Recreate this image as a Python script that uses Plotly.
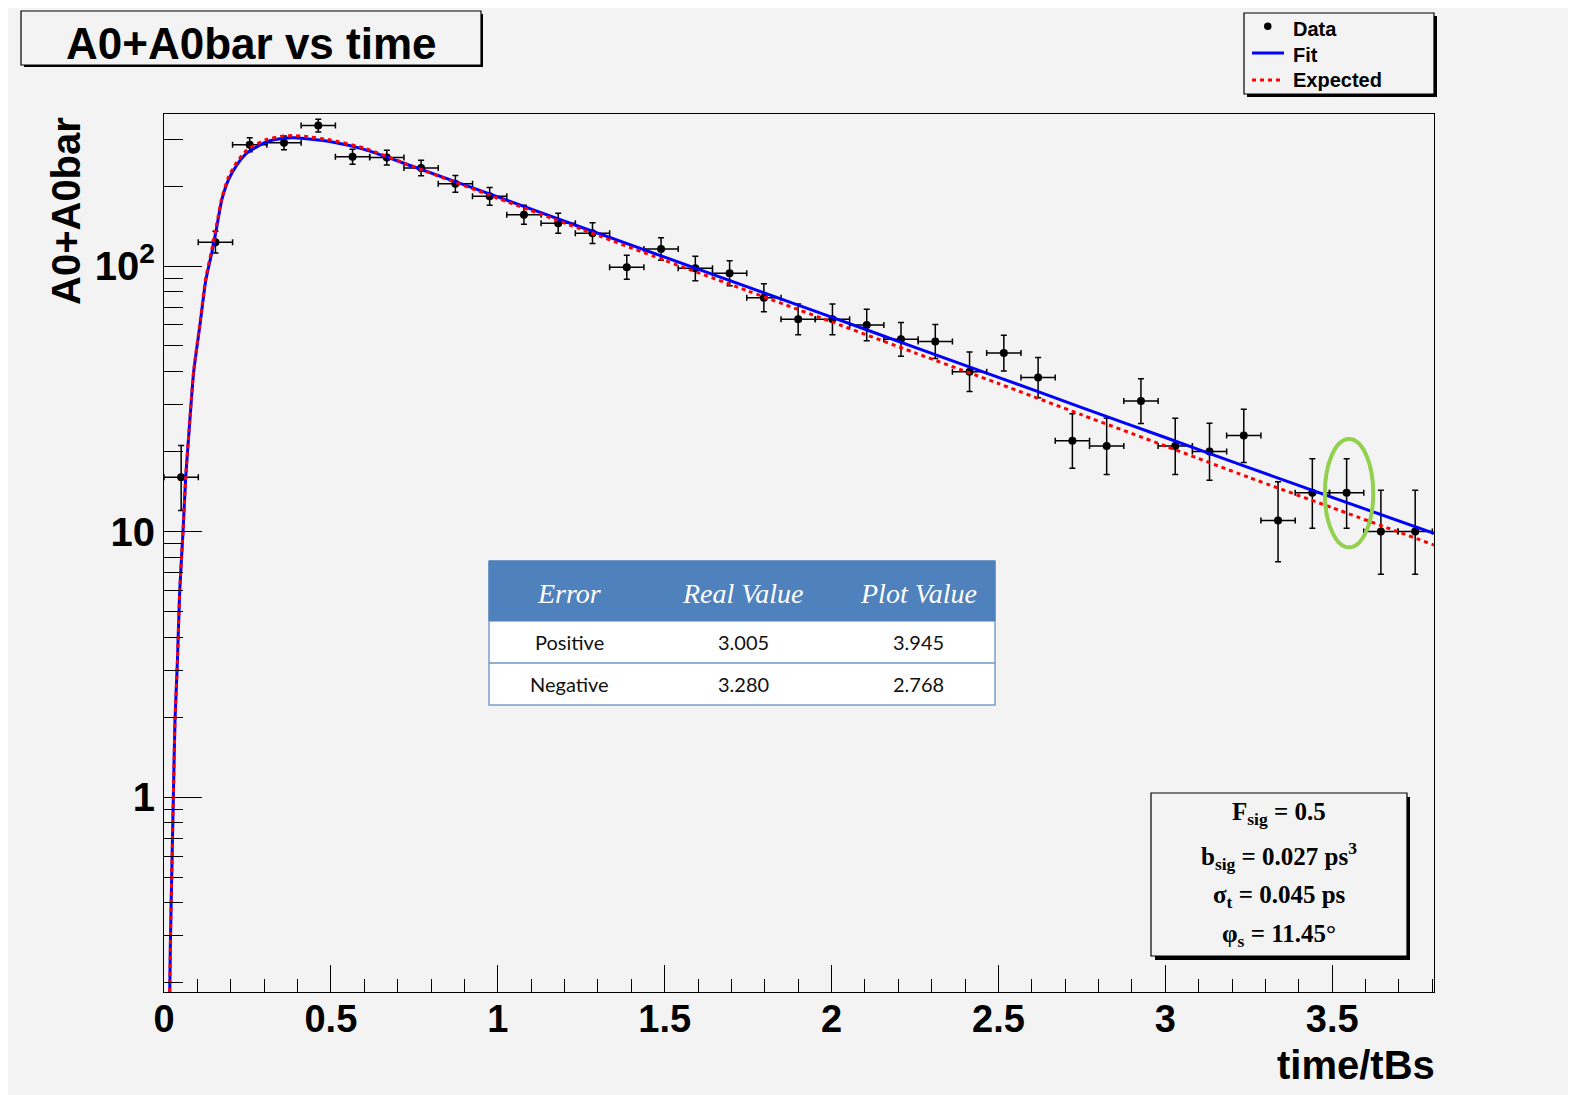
import plotly.graph_objects as go

# ---------------- data ----------------
time_centers = [0.0514, 0.1541, 0.2568, 0.3595, 0.4622, 0.5649, 0.6676, 0.7703, 0.8730, 0.9757,
                1.0784, 1.1811, 1.2838, 1.3865, 1.4892, 1.5919, 1.6946, 1.7973, 1.9000, 2.0027,
                2.1054, 2.2081, 2.3108, 2.4135, 2.5162, 2.6189, 2.7216, 2.8243, 2.9270, 3.0297,
                3.1324, 3.2351, 3.3378, 3.4405, 3.5432, 3.6459, 3.7486]
counts = [16, 123, 286, 291, 338, 258, 256, 234, 204, 183,
          156, 145, 133, 99, 116, 98, 94, 76, 63, 63,
          60, 53, 52, 40, 47, 38, 22, 21, 31, 21,
          20, 23, 11, 14, 14, 10, 10]
err_up = [5.1, 12.1, 17.9, 18.1, 19.4, 17.1, 17.0, 16.3, 15.3, 14.5,
          13.5, 13.0, 12.5, 10.9, 11.8, 10.9, 10.7, 9.7, 8.9, 8.9,
          8.8, 8.3, 8.2, 7.4, 7.9, 7.2, 5.8, 5.7, 6.6, 5.7,
          5.6, 5.9, 4.4, 4.8, 4.8, 4.3, 4.3]
err_down = [4.0, 11.1, 16.9, 17.1, 18.4, 16.1, 16.0, 15.3, 14.3, 13.5,
            12.5, 12.0, 11.5, 9.9, 10.8, 9.9, 9.7, 8.7, 7.9, 7.9,
            7.7, 7.3, 7.2, 6.3, 6.8, 6.1, 4.7, 4.6, 5.5, 4.6,
            4.4, 4.8, 3.3, 3.7, 3.7, 3.1, 3.1]
half_bin = [0.0514] * 37

curve_t = [0.016, 0.019, 0.023, 0.028, 0.033, 0.040, 0.047, 0.057, 0.065, 0.075,
           0.089, 0.107, 0.125, 0.143, 0.158, 0.173, 0.193, 0.218, 0.248, 0.278,
           0.308, 0.358, 0.39, 0.42, 0.5, 0.6, 0.75, 1.0, 1.25, 1.5,
           1.75, 2.0, 2.25, 2.5, 2.75, 3.0, 3.25, 3.5, 3.805]
fit_vals = [0.14, 0.275, 0.5, 1.0, 1.95, 3.2, 5.95, 10, 16, 23.8,
            40, 59, 88, 112, 140, 177, 211, 240, 266, 281,
            294, 303, 304, 302, 294, 275, 236, 182, 140, 108,
            83.3, 64.2, 49.4, 38.1, 29.3, 22.6, 17.4, 13.45, 9.85]
expected_vals = [0.14, 0.275, 0.5, 1.0, 1.95, 3.2, 5.95, 10, 16, 24,
                 40.5, 60, 90, 115, 144, 180, 216, 246, 273, 288,
                 300, 309, 310, 308, 298, 278, 236, 180, 137.6, 105,
                 80.5, 61.6, 47.1, 36.1, 27.5, 21.0, 16.0, 12.3, 8.9]

y_tick_vals = [1, 10, 100]
y_tick_text = ["1", "10", "10<sup>2</sup>"]
y_minor_vals = [0.2, 0.3, 0.4, 0.5, 0.6, 0.7, 0.8, 0.9,
                2, 3, 4, 5, 6, 7, 8, 9,
                20, 30, 40, 50, 60, 70, 80, 90, 200, 300]

table_header = ["Error", "Real Value", "Plot Value"]
table_rows = [["Positive", "3.005", "3.945"],
              ["Negative", "3.280", "2.768"]]
param_lines = ["F<sub>sig</sub> = 0.5",
               "b<sub>sig</sub> = 0.027 ps<sup>3</sup>",
               "σ<sub>t</sub> = 0.045 ps",
               "φ<sub>s</sub> = 11.45°"]

# ---------------- layout helpers (reference pixel -> paper) ----------------
# The page body has an 8 px margin, so the figure sits at (8, 8) in the window.
PL, PR, PT, PB = 164, 1434, 114, 992
def fx(p):
    return (p - PL) / (PR - PL)
def fy(p):
    return (PB - p) / (PB - PT)

GRAY = "#f3f3f3"
SANS = "Liberation Sans, Arial, sans-serif"
SERIF = "Liberation Serif, Times New Roman, serif"

fig = go.Figure()

fig.add_trace(go.Scatter(
    x=time_centers, y=counts, mode="markers", name="Data",
    marker=dict(color="black", size=8),
    error_y=dict(type="data", symmetric=False, array=err_up, arrayminus=err_down,
                 color="black", thickness=1.5, width=3),
    error_x=dict(type="data", array=half_bin, color="black", thickness=1.5, width=3),
    showlegend=False))
fig.add_trace(go.Scatter(
    x=curve_t, y=fit_vals, mode="lines", name="Fit",
    line=dict(color="#0000ff", width=3, shape="spline", smoothing=0.6),
    showlegend=False))
fig.add_trace(go.Scatter(
    x=curve_t, y=expected_vals, mode="lines", name="Expected",
    line=dict(color="#ff0000", width=3, dash="4px,4px", shape="spline", smoothing=0.6),
    showlegend=False))

shapes = []
annotations = []

def rect(x0, y0, x1, y1, fill, line_color="black", lw=1, layer="above"):
    shapes.append(dict(type="rect", xref="paper", yref="paper",
                       x0=fx(x0), x1=fx(x1), y0=fy(y1), y1=fy(y0),
                       fillcolor=fill, line=dict(color=line_color, width=lw), layer=layer))

def text(x, y, s, size, family=SANS, color="black", xanchor="center", weight="bold", angle=0):
    annotations.append(dict(xref="paper", yref="paper", x=fx(x), y=fy(y), text=s,
                            showarrow=False, xanchor=xanchor, yanchor="middle",
                            textangle=angle,
                            font=dict(family=family, size=size, color=color, weight=weight)))

# title box with shadow
rect(24, 14, 483, 67, "black", lw=0)
rect(21, 11, 481, 65, GRAY, lw=1.2)
text(251, 44, "A0+A0bar vs time", 44)

# legend box with shadow
rect(1247, 16, 1437, 97, "black", lw=0)
rect(1244, 13, 1434, 94, GRAY, lw=1.2)
shapes.append(dict(type="circle", xref="paper", yref="paper",
                   x0=fx(1264), x1=fx(1271.5), y0=fy(30), y1=fy(22.5),
                   fillcolor="black", line=dict(color="black", width=0)))
shapes.append(dict(type="line", xref="paper", yref="paper",
                   x0=fx(1252), x1=fx(1284), y0=fy(53), y1=fy(53),
                   line=dict(color="#0000ff", width=3)))
shapes.append(dict(type="line", xref="paper", yref="paper",
                   x0=fx(1252), x1=fx(1284), y0=fy(80), y1=fy(80),
                   line=dict(color="#ff0000", width=3, dash="4px,4px")))
text(1291, 29, "Data", 20, xanchor="left")
text(1291, 55, "Fit", 20, xanchor="left")
text(1291, 80, "Expected", 20, xanchor="left")

# parameters box with shadow
rect(1155, 797, 1410, 960, "black", lw=0)
rect(1151, 793, 1407, 956, GRAY, lw=1.2)
for s, yy in zip(param_lines, [813, 856, 896, 935]):
    text(1279, yy, s, 25, family=SERIF)

# table (pasted picture in the reference)
rect(489, 561, 995, 705, "white", line_color="#7f9fc9", lw=1.5)
rect(489, 561, 995, 621, "#4f81bd", line_color="#4f81bd", lw=1)
shapes.append(dict(type="line", xref="paper", yref="paper",
                   x0=fx(489), x1=fx(995), y0=fy(663), y1=fy(663),
                   line=dict(color="#6f93c4", width=1.5)))
col_x = [569, 743, 918]
for s, xx in zip(table_header, col_x):
    text(xx, 593, "<i>" + s + "</i>", 28, family=SERIF, color="white", weight="normal")
for row, yy in zip(table_rows, [642, 684]):
    for s, xx in zip(row, col_x):
        text(xx, yy, s, 20, family="Lato, Open Sans, sans-serif", color="#111111", weight="normal")

# green highlight ellipse around one data point (data coords)
shapes.append(dict(type="circle", xref="x", yref="y",
                   x0=3.478, x1=3.623, y0=8.72, y1=22.3,
                   line=dict(color="#92d050", width=4)))

# axis titles
text(1437, 1065, "time/tBs", 40, xanchor="right")
text(66, 211, "A0+A0bar", 40, angle=-90)

fig.update_layout(
    width=1568, height=1087, autosize=False,
    margin=dict(l=PL - 8, r=1576 - PR, t=PT - 8, b=1095 - PB, pad=0),
    paper_bgcolor=GRAY, plot_bgcolor=GRAY,
    shapes=shapes, annotations=annotations,
    xaxis=dict(range=[0, 3.805], tick0=0, dtick=0.5, ticks="inside", ticklen=27,
               tickwidth=1, tickcolor="black", showline=True, linecolor="black",
               linewidth=1.2, mirror=True, showgrid=False, zeroline=False,
               ticklabelstandoff=-7,
               tickfont=dict(family=SANS, size=38, color="black", weight="bold"),
               minor=dict(dtick=0.1, tick0=0, ticks="inside", ticklen=13,
                          tickwidth=1, tickcolor="black", showgrid=False)),
    yaxis=dict(type="log", range=[-0.734, 2.5725], tickmode="array",
               tickvals=y_tick_vals, ticktext=y_tick_text, ticks="inside", ticklen=38,
               tickwidth=1, tickcolor="black", showline=True, linecolor="black",
               linewidth=1.2, mirror=True, showgrid=False, zeroline=False,
               tickfont=dict(family=SANS, size=40, color="black", weight="bold"),
               minor=dict(tickmode="array", tickvals=y_minor_vals, ticks="inside",
                          ticklen=19, tickwidth=1, tickcolor="black", showgrid=False)),
)

fig.write_html("out.html")
